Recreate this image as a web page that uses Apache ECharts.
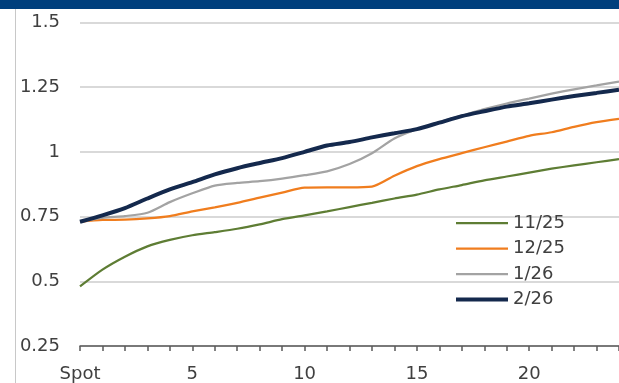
<!DOCTYPE html>
<html>
<head>
<meta charset="utf-8">
<script src="https://cdn.jsdelivr.net/npm/echarts@6/dist/echarts.min.js"></script>
<style>
html,body{margin:0;padding:0;background:#fff;}
#chart{width:619px;height:383px;}
</style>
</head>
<body>
<div id="chart"></div>
<script>
const categories = ['Spot','1','2','3','4','5','6','7','8','9','10','11','12','13','14','15','16','17','18','19','20','21','22','23','24'];
const seriesNames = ['11/25','12/25','1/26','2/26'];
const nov25 = [0.48,0.545,0.595,0.635,0.66,0.678,0.69,0.703,0.72,0.74,0.755,0.77,0.787,0.803,0.82,0.835,0.855,0.872,0.89,0.905,0.92,0.935,0.948,0.96,0.972];
const dec25 = [0.73,0.737,0.738,0.743,0.752,0.77,0.786,0.803,0.823,0.843,0.862,0.863,0.863,0.866,0.908,0.945,0.972,0.995,1.018,1.04,1.062,1.076,1.097,1.115,1.128];
const jan26 = [0.73,0.745,0.752,0.765,0.806,0.84,0.87,0.88,0.887,0.897,0.91,0.925,0.953,0.995,1.052,1.088,1.115,1.14,1.165,1.187,1.206,1.225,1.242,1.257,1.272];
const feb26 = [0.73,0.755,0.783,0.82,0.855,0.883,0.913,0.937,0.957,0.976,1.0,1.025,1.038,1.056,1.072,1.088,1.113,1.138,1.157,1.175,1.188,1.202,1.216,1.228,1.24];
const yTicks = {min:0.25, max:1.5, interval:0.25};

const colors = ['#5e7d34','#f07d1e','#a3a3a3','#14294d'];
const widths = [2.25,2.25,2.25,4];
const seriesData = [nov25, dec25, jan26, feb26];
const FONT = 'DejaVu Sans';

const chart = echarts.init(document.getElementById('chart'));
chart.setOption({
  animation:false,
  backgroundColor:'#fff',
  graphic:[
    {type:'rect', shape:{x:0,y:0,width:619,height:9}, style:{fill:'#003f7d'}},
    {type:'line', shape:{x1:15.5,y1:9,x2:15.5,y2:383}, style:{stroke:'#c8c8c8',lineWidth:1}}
  ],
  grid:{left:80,right:0,top:22.5,bottom:32.5,containLabel:false},
  legend:{
    orient:'vertical', left:449, top:208,
    itemWidth:52, itemHeight:4, itemGap:5.5,
    data:seriesNames,
    lineStyle:{width:'inherit'},
    itemStyle:{opacity:0},
    textStyle:{fontFamily:FONT,fontSize:18,color:'#404040',lineHeight:20}
  },
  xAxis:{
    type:'category', data:categories, boundaryGap:false,
    axisLine:{lineStyle:{color:'#595959',width:1.5}},
    axisTick:{show:true,interval:0,length:5,lineStyle:{color:'#595959',width:1.5}},
    axisLabel:{interval:function(i){return i%5===0;}, margin:19, fontFamily:FONT, fontSize:18, color:'#404040'},
    splitLine:{show:false}
  },
  yAxis:{
    type:'value', min:yTicks.min, max:yTicks.max, interval:yTicks.interval,
    axisLine:{show:false}, axisTick:{show:false},
    axisLabel:{margin:20, fontFamily:FONT, fontSize:18, color:'#404040'},
    splitLine:{lineStyle:{color:'#d9d9d9',width:2}}
  },
  series: seriesNames.map((n,k)=>({
    name:n, type:'line', data:seriesData[k], symbol:'none', smooth:0.25,
    lineStyle:{color:colors[k], width:widths[k]},
    itemStyle:{color:colors[k]},
    z: 2+k
  }))
});
</script>
</body>
</html>
